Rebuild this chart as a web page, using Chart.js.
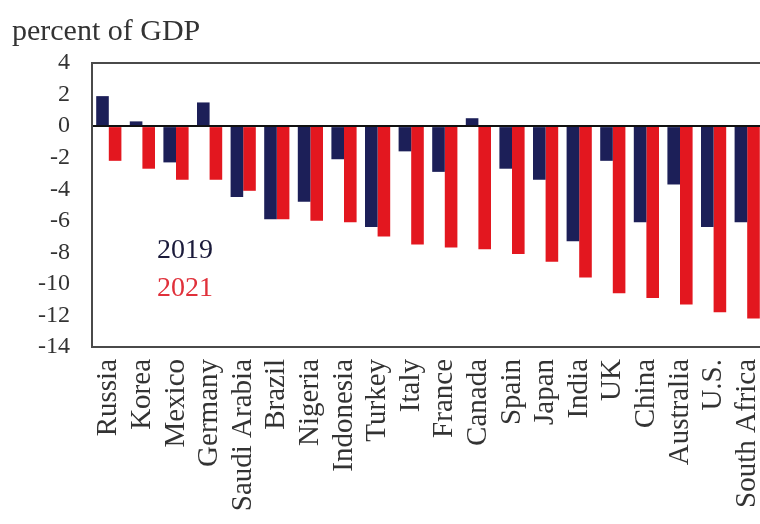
<!DOCTYPE html>
<html>
<head>
<meta charset="utf-8">
<script src="https://cdn.jsdelivr.net/npm/chart.js@4/dist/chart.umd.min.js"></script>
<style>
  html, body { margin: 0; padding: 0; background: #fff; overflow: hidden; }
  #wrap { width: 786px; height: 524px; }
</style>
</head>
<body>
<div id="wrap"><canvas id="chart"></canvas></div>
<script>
const countries = ['Russia', 'Korea', 'Mexico', 'Germany', 'Saudi Arabia', 'Brazil', 'Nigeria', 'Indonesia',
  'Turkey', 'Italy', 'France', 'Canada', 'Spain', 'Japan', 'India', 'UK', 'China', 'Australia', 'U.S.', 'South Africa'];
const y2019 = [1.9, 0.3, -2.3, 1.5, -4.5, -5.9, -4.8, -2.1, -6.4, -1.6, -2.9, 0.5, -2.7, -3.4, -7.3, -2.2, -6.1, -3.7, -6.4, -6.1];
const y2021 = [-2.2, -2.7, -3.4, -3.4, -4.1, -5.9, -6.0, -6.1, -7.0, -7.5, -7.7, -7.8, -8.1, -8.6, -9.6, -10.6, -10.9, -11.3, -11.8, -12.2];

const navy = '#1c1f58';
const red = '#e3171f';
const serif = '"Liberation Serif", "Times New Roman", serif';

// frame round the plot plus the in-plot year labels
const framePlugin = {
  id: 'frame',
  afterDraw(chart) {
    const {ctx, chartArea: a, scales} = chart;
    ctx.save();
    ctx.strokeStyle = '#4a4a4a';
    ctx.lineWidth = 2;
    ctx.strokeRect(a.left, a.top, a.right - a.left, a.bottom - a.top);
    ctx.font = '28px ' + serif;
    ctx.textBaseline = 'middle';
    ctx.textAlign = 'left';
    ctx.fillStyle = '#1a1a3a';
    ctx.fillText('2019', a.left + 65, scales.y.getPixelForValue(-7.9));
    ctx.fillStyle = '#e0303a';
    ctx.fillText('2021', a.left + 65, scales.y.getPixelForValue(-10.3));
    ctx.restore();
  }
};

new Chart(document.getElementById('chart'), {
  type: 'bar',
  data: {
    labels: countries,
    datasets: [
      {label: '2019', data: y2019, backgroundColor: navy},
      {label: '2021', data: y2021, backgroundColor: red}
    ]
  },
  options: {
    responsive: true,
    maintainAspectRatio: false,
    animation: false,
    layout: {padding: {left: 12, right: 0, top: 0, bottom: 0}},
    datasets: {bar: {categoryPercentage: 0.75, barPercentage: 1}},
    scales: {
      x: {
        grid: {display: false},
        border: {display: false},
        ticks: {
          color: '#333', font: {family: serif, size: 29},
          minRotation: 90, maxRotation: 90, autoSkip: false, padding: 4
        },
        afterFit: s => { s.height = 177; }
      },
      y: {
        min: -14, max: 4,
        border: {display: false},
        grid: {
          drawTicks: false,
          color: c => c.tick.value === 0 ? '#111' : 'rgba(0,0,0,0)',
          lineWidth: 2
        },
        ticks: {stepSize: 2, autoSkip: false, color: '#333', font: {family: serif, size: 24}, padding: 22},
        afterFit: s => { s.width = 80; }
      }
    },
    plugins: {
      legend: {display: false},
      tooltip: {enabled: false},
      title: {
        display: true,
        text: 'percent of GDP',
        align: 'start',
        color: '#333',
        font: {family: serif, size: 30, weight: 'normal'},
        padding: {top: 14, bottom: 13}
      }
    }
  },
  plugins: [framePlugin]
});
</script>
</body>
</html>
